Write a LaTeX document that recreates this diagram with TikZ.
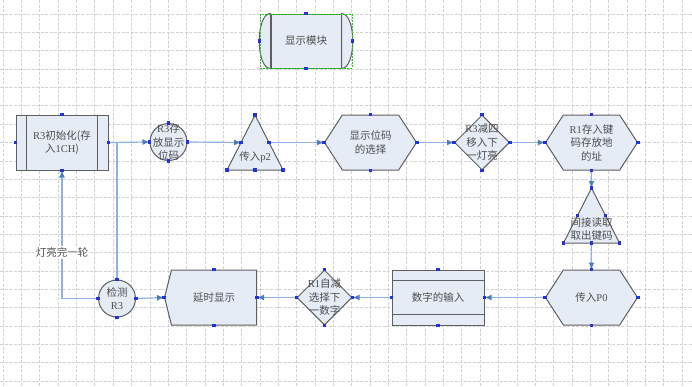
\documentclass[tikz,border=0pt]{standalone}
\usepackage{fontspec}
\setmainfont{Liberation Serif}
\newfontfamily\cjk{Noto Sans CJK SC}
\newfontfamily\lat{Liberation Serif}
\usetikzlibrary{arrows.meta,positioning,calc,shapes.geometric,shapes.symbols}
\definecolor{shapefill}{HTML}{E6ECF6}
\definecolor{shapeline}{HTML}{5F5F5F}
\definecolor{textgray}{HTML}{4D4D4D}
\definecolor{linkblue}{HTML}{8DB3E2}
\definecolor{tipblue}{HTML}{4A7EBB}
\definecolor{pointblue}{HTML}{2233DD}
\definecolor{gridgray}{HTML}{D2D2D2}
\definecolor{selgreen}{HTML}{22CC22}
\tikzset{
  base/.style={draw=shapeline, fill=shapefill, line width=1pt, text=textgray,
    align=center, font=\cjk\fontsize{10.5}{13.5}\selectfont, inner sep=0pt},
  procbox/.style={base, rectangle, minimum width=92pt, minimum height=55pt},
  hexbox/.style={base, signal, signal from=nowhere, signal to={east and west},
    signal pointer angle=114, minimum width=92pt, minimum height=55pt},
  delaybox/.style={base, signal, signal from=nowhere, signal to=west,
    signal pointer angle=152, minimum width=92pt, minimum height=55pt},
  decbox/.style={base, diamond, minimum width=55pt, minimum height=55pt},
  roundbox/.style={base, circle, minimum size=37pt},
  tri/.style={draw=shapeline, fill=shapefill, line width=1pt},
  edge/.style={draw=shapeline, line width=1pt},
  txt/.style={text=textgray, align=center, font=\cjk\fontsize{10.5}{13.5}\selectfont, inner sep=0pt},
  conn/.style={-{Latex[length=7pt,width=6pt,color=tipblue]}, line width=1.2pt, draw=linkblue},
  link/.style={line width=1.2pt, draw=linkblue},
  gridline/.style={draw=gridgray, line width=0.6pt, dash pattern=on 3pt off 1.5pt},
  selbox/.style={draw=selgreen, line width=0.6pt, dash pattern=on 2pt off 1pt},
  cpt/.style={fill=pointblue}
}

\begin{document}
\begin{tikzpicture}[x=1pt,y=-1pt]
  \useasboundingbox (0,0) rectangle (692,386);
  \fill[white] (0,0) rectangle (692,386);
  % grid
  \foreach \i in {0,...,37}
    \draw[gridline] ({3+18.35*\i},0) -- ++(0,386);
  \foreach \j in {0,...,20}
    \draw[gridline] (0,{14+18.35*\j}) -- ++(692,0);

  % module title
  \node[base, rectangle, minimum width=70pt, minimum height=54pt] (mod) at (306,41) {显示模块};
  \filldraw[tri] (mod.north west) .. controls +(-15,0) and +(-15,0) .. (mod.south west) -- cycle;
  \filldraw[tri] (mod.north east) .. controls +(15,0) and +(15,0) .. (mod.south east) -- cycle;
  \coordinate (modw) at ($(mod.west)+(-11,0)$);
  \coordinate (mode) at ($(mod.east)+(11,0)$);
  \draw[selbox] (260,14) rectangle (352,68);

  % top row
  \node[procbox] (init) at (62,142.5) {{\lat R3}初始化(存\\入{\lat 1CH})};
  \draw[edge] ([xshift=11pt]init.north west) -- ([xshift=11pt]init.south west);
  \draw[edge] ([xshift=-11pt]init.north east) -- ([xshift=-11pt]init.south east);
  \node[roundbox, label={[txt]center:{{\lat R3}存\\放显示\\位码}}] (store) at (168.5,142) {};
  \coordinate (p2top) at (255,115);
  \coordinate (p2left) at (227,170);
  \coordinate (p2right) at (283,170);
  \filldraw[tri] (p2top) -- (p2right) -- (p2left) -- cycle;
  \node[txt] (p2) at (255,157) {传入{\lat p2}};
  \coordinate (p2w) at ($(p2top)!0.5!(p2left)$);
  \coordinate (p2e) at ($(p2top)!0.5!(p2right)$);
  \coordinate (p2base) at ($(p2left)!0.5!(p2right)$);
  \node[hexbox] (sel) at (370.5,142.5) {显示位码\\的选择};
  \node[decbox, label={[txt]center:{{\lat R3}减四\\移入下\\一灯亮}}] (shift) at (482,142.5) {};
  \node[hexbox] (keyaddr) at (591.5,142.5) {{\lat R1}存入键\\码存放地\\的址};

  % right column
  \coordinate (rdtop) at (591.5,188);
  \coordinate (rdleft) at (563.5,243);
  \coordinate (rdright) at (619.5,243);
  \filldraw[tri] (rdtop) -- (rdright) -- (rdleft) -- cycle;
  \node[txt] (read) at (591.5,229) {间接读取\\取出键码};
  \coordinate (rdw) at ($(rdtop)!0.5!(rdleft)$);
  \coordinate (rde) at ($(rdtop)!0.5!(rdright)$);
  \coordinate (rdbase) at ($(rdleft)!0.5!(rdright)$);

  % bottom row
  \node[hexbox] (outp) at (591.5,297.5) {传入{\lat P0}};
  \node[procbox] (input) at (438,297.5) {数字的输入};
  \draw[edge] ([yshift=-11pt]input.north west) -- ([yshift=-11pt]input.north east);
  \draw[edge] ([yshift=11pt]input.south west) -- ([yshift=11pt]input.south east);
  \node[decbox, label={[txt]center:{{\lat R1}自减\\选择下\\一数字}}] (dec) at (324.5,297.5) {};
  \node[delaybox] (delay) at (214,297.5) {延时显示};
  \node[roundbox, label={[txt]center:{检测\\{\lat R3}}}] (check) at (117,298.5) {};

  % connectors
  \draw[conn] (init.east) -- (store.west);
  \draw[conn] (store.east) -- (p2w);
  \draw[conn] (p2e) -- (sel.west);
  \draw[conn] (sel.east) -- (shift.west);
  \draw[conn] (shift.east) -- (keyaddr.west);
  \draw[conn] (keyaddr.south) -- (rdtop);
  \draw[conn] (rdbase) -- (outp.north);
  \draw[conn] (outp.west) -- (input.east);
  \draw[conn] (input.west) -- (dec.east);
  \draw[conn] (dec.west) -- (delay.east);
  \draw[conn] (check.east) -- (delay.west);
  \draw[link] (check.north |- init.east) -- (check.north);
  \draw[conn] (check.west) -| (init.south)
    node[txt, pos=0.68, fill=white, inner sep=1.5pt] (loopnote) {灯亮完一轮};

  % connection points
  \foreach \p in {mod.north, mod.south, modw, mode,
      init.north, init.south, init.east, init.west,
      store.north, store.south, store.east, store.west,
      p2top, p2w, p2e, p2left, p2right, p2base,
      sel.north, sel.south, sel.east, sel.west,
      shift.north, shift.south, shift.east, shift.west,
      keyaddr.north, keyaddr.south, keyaddr.east, keyaddr.west,
      rdtop, rdw, rde, rdleft, rdright, rdbase,
      outp.north, outp.south, outp.east, outp.west,
      input.north, input.south, input.east, input.west,
      dec.north, dec.south, dec.east, dec.west,
      delay.north, delay.south, delay.east, delay.west,
      check.north, check.south, check.east, check.west}
    \fill[cpt] (\p) +(-1.8,-1.8) rectangle +(1.8,1.8);
\end{tikzpicture}
\end{document}
